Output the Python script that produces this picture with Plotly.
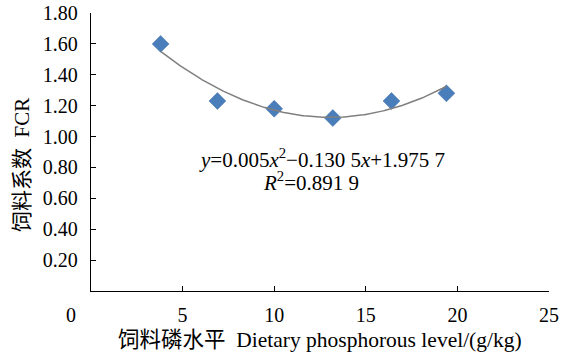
import numpy as np
import plotly.graph_objects as go

# Data
phosphorus_level = [3.8, 6.9, 10.0, 13.2, 16.4, 19.4]
fcr = [1.60, 1.23, 1.18, 1.12, 1.23, 1.28]

# Trendline coefficients printed on the chart (y = a x^2 + b x + c)
trend_coef = [0.005, -0.1305, 1.9757]

x_ticks = [0, 5, 10, 15, 20, 25]
x_ticktext = ["0\u2007\u2007\u2007\u2007", "5", "10", "15", "20", "25"]
y_ticks = [0.2, 0.4, 0.6, 0.8, 1.0, 1.2, 1.4, 1.6, 1.8]
y_ticktext = ["0.20", "0.40", "0.60", "0.80", "1.00", "1.20", "1.40", "1.60", "1.80"]

FONT = "Liberation Serif, Times New Roman, Noto Sans CJK SC, serif"

xs = np.linspace(min(phosphorus_level), max(phosphorus_level), 200)
ys = np.polyval(trend_coef, xs)

fig = go.Figure()
fig.add_trace(go.Scatter(
    x=phosphorus_level, y=fcr, mode="markers",
    marker=dict(symbol="diamond", size=13, color="#4A7EBB",
                line=dict(color="#3F6FA8", width=0.5)),
    showlegend=False, hoverinfo="x+y"))
fig.add_trace(go.Scatter(
    x=xs, y=ys, mode="lines",
    line=dict(color="#7F7F7F", width=1.5),
    showlegend=False, hoverinfo="skip"))

fig.add_annotation(
    x=0.505, y=0.476, xref="paper", yref="paper", xanchor="center", yanchor="middle",
    text="<i>y</i>=0.005<i>x</i><sup>2</sup>\u22120.130 5<i>x</i>+1.975 7",
    showarrow=False, font=dict(family=FONT, size=21, color="black"))
fig.add_annotation(
    x=0.4805, y=0.394, xref="paper", yref="paper", xanchor="center", yanchor="middle",
    text="<i>R</i><sup>2</sup>=0.891 9",
    showarrow=False, font=dict(family=FONT, size=21, color="black"))

# axis titles
fig.add_annotation(
    x=0.5, y=-0.176, xref="paper", yref="paper", xanchor="center", yanchor="middle",
    text="饲料磷水平  Dietary phosphorous level/(g/kg)",
    showarrow=False, font=dict(family=FONT, size=21.5, color="black"))
fig.add_annotation(
    x=-0.1507, y=0.453, xref="paper", yref="paper", xanchor="center", yanchor="middle",
    text="饲料系数  FCR", textangle=-90,
    showarrow=False, font=dict(family=FONT, size=21, color="black"))

fig.update_layout(
    width=574, height=355,
    margin=dict(l=91, r=25, t=13, b=64),
    paper_bgcolor="white", plot_bgcolor="white",
    font=dict(family=FONT, size=20, color="black"),
    xaxis=dict(
        range=[0, 25], tickvals=x_ticks, ticktext=x_ticktext, automargin=False,
        showgrid=False, zeroline=False, showline=True, linecolor="black", linewidth=1.3,
        ticks="inside", ticklen=5, tickcolor="black", tickwidth=1.3,
        ticklabelstandoff=6,
        tickfont=dict(family=FONT, size=20)),
    yaxis=dict(
        range=[0, 1.8], tickvals=y_ticks, ticktext=y_ticktext, automargin=False,
        showgrid=False, zeroline=False, showline=True, linecolor="black", linewidth=1.3,
        ticks="inside", ticklen=5, tickcolor="black", tickwidth=1.3,
        ticklabelstandoff=8,
        tickfont=dict(family=FONT, size=20)),
)

fig.write_html("out.html", config={"displayModeBar": False},
               post_script="document.body.style.margin='0';")
